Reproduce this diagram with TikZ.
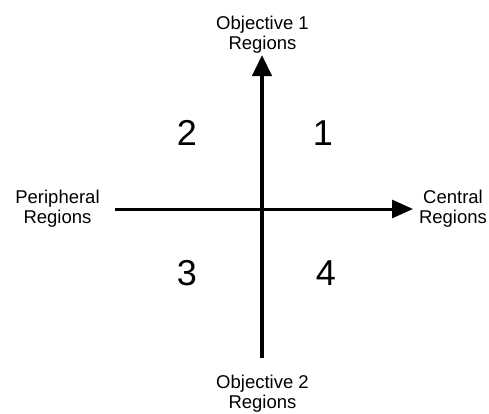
\documentclass[tikz,border=0pt]{standalone}
\usepackage{fontspec}
\setmainfont{Liberation Sans}
\usetikzlibrary{arrows.meta}

\begin{document}
\begin{tikzpicture}[x=1pt, y=-1pt, every node/.style={inner sep=0pt, align=center, font=\fontsize{18.5}{20}\selectfont},
    num/.style={font=\fontsize{36}{36}\selectfont}]
    \useasboundingbox (0,0) rectangle (489,413);
    \coordinate (s) at (262,358);
    \coordinate (n) at (262,55);
    \coordinate (w) at (115,209);
    \coordinate (e) at (413,209);
    \node (top) at (262.5,35) {Objective 1\\Regions};
    \node (bot) at (262.5,394) {Objective 2\\Regions};
    \node (left) at (57.5,209) {Peripheral\\Regions};
    \node (right) at (453,209) {Central\\Regions};
    \node[num] (1) at (323,133) {1};
    \node[num] (2) at (187,133) {2};
    \node[num] (3) at (187,273) {3};
    \node[num] (4) at (326,273) {4};
        \draw[line width=4.5pt, -{Triangle[length=21pt,width=19pt]}] (s) -- (n);
        \draw[line width=3pt, -{Triangle[length=21pt,width=18pt]}] (w) -- (e);
\end{tikzpicture}
\end{document}
